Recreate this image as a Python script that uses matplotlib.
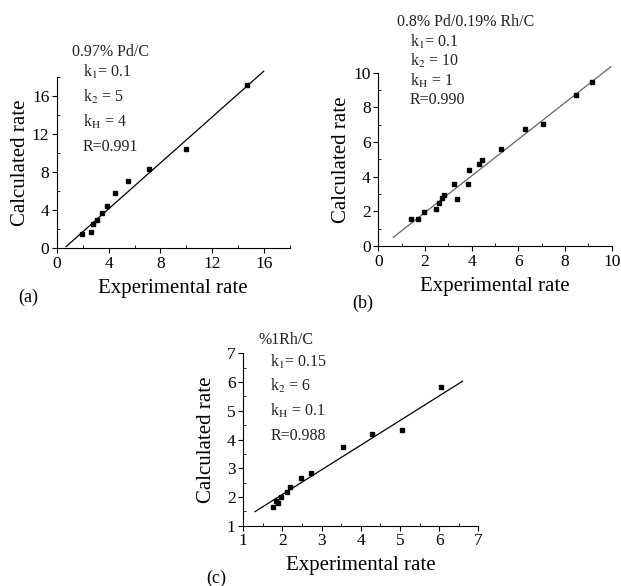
import matplotlib
matplotlib.use('Agg')
import matplotlib.pyplot as plt
from matplotlib.ticker import MultipleLocator

plt.rcParams['font.family'] = ['Liberation Serif', 'DejaVu Serif']
plt.rcParams['mathtext.fontset'] = 'stix'

# (a) 0.97% Pd/C
a_exp = [1.9, 2.6, 2.8, 3.1, 3.5, 3.9, 4.5, 5.5, 7.1, 10.0, 14.7]
a_calc = [1.5, 1.7, 2.5, 2.9, 3.7, 4.4, 5.8, 7.0, 8.3, 10.4, 17.2]
a_fit_x = [0.7, 16.0]
a_fit_y = [0.14, 18.6]
a_text = ['0.97% Pd/C', 'k$_\\mathrm{1}$= 0.1', 'k$_\\mathrm{2}$ = 5',
          'k$_\\mathrm{H}$ = 4', 'R=0.991']

# (b) 0.8% Pd/0.19% Rh/C
b_exp = [1.4, 1.71, 1.94, 2.47, 2.6, 2.74, 2.83, 3.24, 3.36, 3.86, 3.89,
         4.31, 4.44, 5.24, 6.3, 7.04, 8.46, 9.16]
b_calc = [1.54, 1.58, 1.96, 2.13, 2.5, 2.75, 2.92, 3.58, 2.71, 3.58, 4.37,
          4.75, 4.94, 5.58, 6.77, 7.06, 8.73, 9.46]
b_fit_x = [0.64, 9.97]
b_fit_y = [0.5, 10.35]
b_text = ['0.8% Pd/0.19% Rh/C', 'k$_\\mathrm{1}$= 0.1', 'k$_\\mathrm{2}$ = 10',
          'k$_\\mathrm{H}$ = 1', 'R=0.990']

# (c) %1Rh/C
c_exp = [1.75, 1.83, 1.89, 1.96, 2.11, 2.19, 2.47, 2.72, 3.54, 4.29, 5.04, 6.06]
c_calc = [1.66, 1.87, 1.78, 2.01, 2.18, 2.36, 2.65, 2.82, 3.75, 4.2, 4.33, 5.84]
c_fit_x = [1.3, 6.6]
c_fit_y = [1.49, 6.03]
c_text = ['%1Rh/C', 'k$_\\mathrm{1}$= 0.15', 'k$_\\mathrm{2}$ = 6',
          'k$_\\mathrm{H}$ = 0.1', 'R=0.988']

fig = plt.figure(figsize=(6.21, 5.86), dpi=100)


def panel(rect, x, y, fx, fy, texts, lim, major, minor, line_color,
          title_pos, k_x, k_y, label, label_pos, ypad):
    ax = fig.add_axes(rect)
    ax.plot(fx, fy, '-', color=line_color, lw=0.9, clip_on=False)
    ax.plot(x, y, 's', color='black', ms=2.8, clip_on=False)
    ax.set_xlim(lim)
    ax.set_ylim(lim)
    for s in ['top', 'right']:
        ax.spines[s].set_visible(False)
    for s in ['left', 'bottom']:
        ax.spines[s].set_linewidth(0.8)
    ax.xaxis.set_major_locator(MultipleLocator(major))
    ax.yaxis.set_major_locator(MultipleLocator(major))
    ax.xaxis.set_minor_locator(MultipleLocator(minor))
    ax.yaxis.set_minor_locator(MultipleLocator(minor))
    ax.tick_params(which='major', direction='out', length=3.5, width=0.8,
                   labelsize=12.5, pad=2)
    ax.tick_params(which='minor', direction='in', length=2, width=0.6)
    ax.set_xlabel('Experimental rate', fontsize=15, labelpad=5)
    ax.set_ylabel('Calculated rate', fontsize=15, labelpad=ypad)
    ax.text(title_pos[0], title_pos[1], texts[0], transform=ax.transAxes,
            fontsize=11.5, ha='left', va='center', color='#222222')
    for t, yy in zip(texts[1:], k_y):
        ax.text(k_x, yy, t, transform=ax.transAxes, fontsize=11.5,
                ha='left', va='center', color='#222222')
    fig.text(label_pos[0], label_pos[1], label, fontsize=13,
             ha='center', va='center')
    return ax


panel([0.0918, 0.5768, 0.3744, 0.2918], a_exp, a_calc, a_fit_x, a_fit_y,
      a_text, (0, 18), 4, 2, 'black', (0.063, 1.146), 0.112,
      [1.031, 0.885, 0.739, 0.592], '(a)', (0.045, 0.492), 1)
panel([0.6092, 0.5802, 0.3758, 0.2957], b_exp, b_calc, b_fit_x, b_fit_y,
      b_text, (0, 10), 2, 1, '#666666', (0.079, 1.294), 0.136,
      [1.179, 1.066, 0.954, 0.842], '(b)', (0.5845, 0.483), 2)
panel([0.3918, 0.1029, 0.3784, 0.2942], c_exp, c_calc, c_fit_x, c_fit_y,
      c_text, (1, 7), 1, 0.5, 'black', (0.064, 1.077), 0.114,
      [0.951, 0.808, 0.665, 0.522], '(c)', (0.348, 0.0137), 8)

fig.savefig('out.png', dpi=100)
